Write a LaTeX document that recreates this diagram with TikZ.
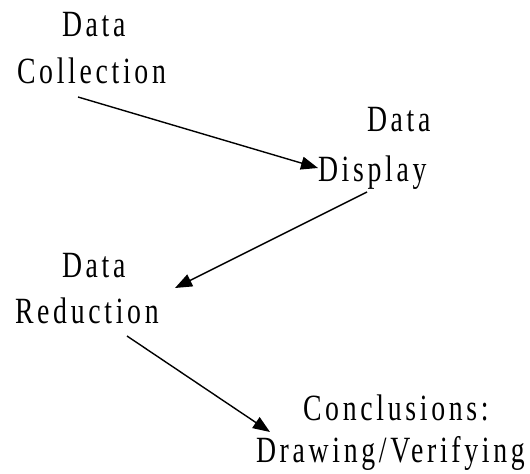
\documentclass[tikz,border=0pt]{standalone}
\usepackage{fontspec}
\setmainfont{Liberation Serif}[FakeStretch=0.75,LetterSpace=10]
\usetikzlibrary{arrows.meta}
\begin{document}
\begin{tikzpicture}[x=1bp,y=-1bp,
  lbl/.style={anchor=base west,inner sep=0pt,outer sep=0pt,font=\fontsize{37bp}{40bp}\selectfont},
  flow/.style={-{Triangle[length=17bp,width=13bp]},line width=1.4bp}]
\useasboundingbox (0,0) rectangle (530,474);
% Data Collection
\node[lbl] (c1) at (62,37) {Data};
\node[lbl] (c2) at (17,84) {Collection};
% Data Display
\node[lbl] (d1) at (367,132) {Data};
\node[lbl] (d2) at (318,182) {Display};
% Data Reduction
\node[lbl] (r1) at (62,277) {Data};
\node[lbl] (r2) at (15,323) {Reduction};
% Conclusions
\node[lbl] (k1) at (303,420) {Conclusions:};
\node[lbl] (k2) at (256,462) {Drawing/Verifying};
% connectors
\coordinate (s1) at (78,97);
\coordinate (t1) at (318,168);
\coordinate (s2) at (367,192);
\coordinate (t2) at (175,288);
\coordinate (s3) at (127,336);
\coordinate (t3) at (270,432);
\draw[flow] (s1) -- (t1);
\draw[flow] (s2) -- (t2);
\draw[flow] (s3) -- (t3);
\end{tikzpicture}
\end{document}
